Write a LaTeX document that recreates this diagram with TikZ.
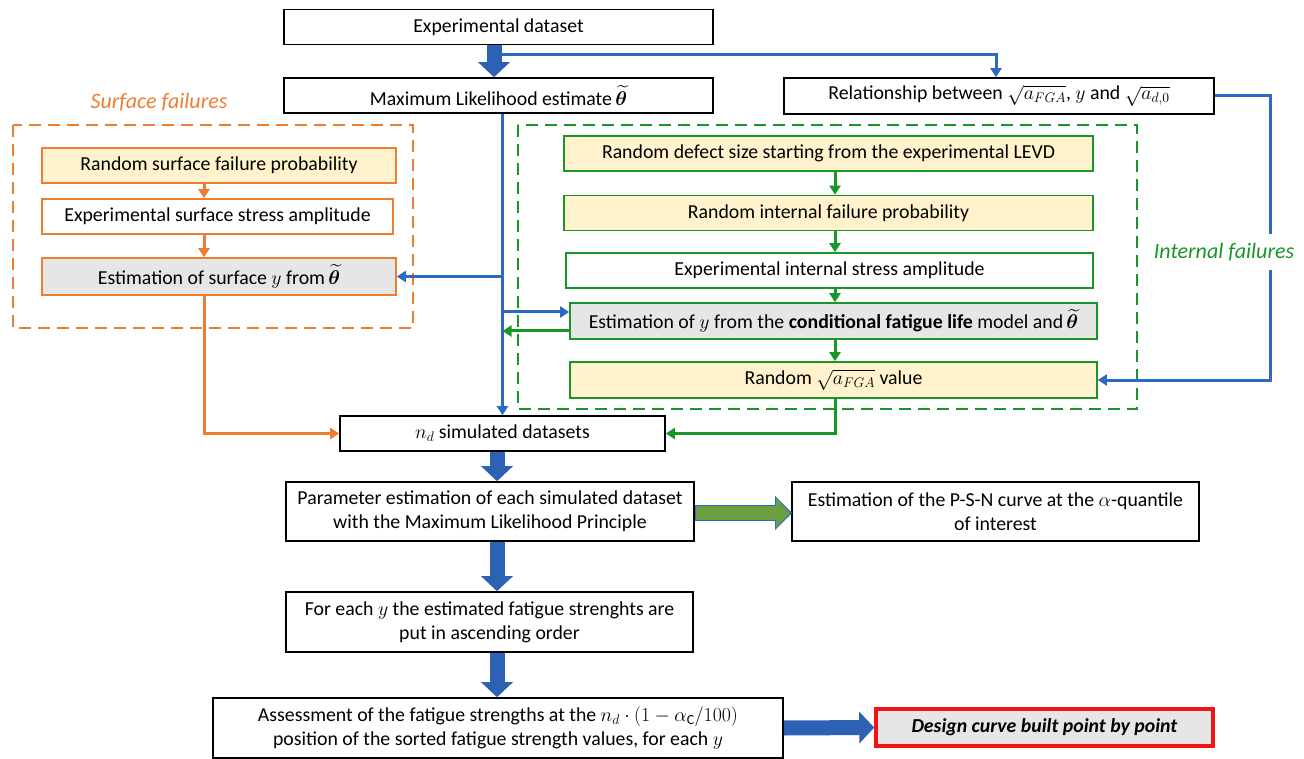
\documentclass[tikz,border=0pt]{standalone}
\usepackage{fix-cm}
\usepackage{amsmath,bm}
\usepackage{fontspec}
\setmainfont{Carlito}
\usetikzlibrary{arrows.meta,shapes}

\definecolor{lineblue}{RGB}{46,106,196}
\definecolor{arrowblue}{RGB}{45,97,180}
\definecolor{surforange}{RGB}{237,125,49}
\definecolor{intgreen}{RGB}{24,150,40}
\definecolor{arrowgreen}{RGB}{106,159,63}
\definecolor{boxyellow}{RGB}{255,242,204}
\definecolor{boxgray}{RGB}{230,230,230}
\definecolor{designred}{RGB}{240,20,20}

\newcommand{\thetahat}{\,$\widetilde{\bm{\theta}}$}

\tikzset{
  box/.style={draw=black, line width=1.6pt, minimum height=35pt, inner sep=2pt,
    align=center, font=\fontsize{19.8}{24}\selectfont},
  obox/.style={box, draw=surforange},
  gbox/.style={box, draw=intgreen},
  thin arrow/.style={line width=3pt, -{Triangle[width=11pt,length=9pt]}},
  big arrow/.style={line width=15pt, -{Triangle[width=31pt,length=15pt]}},
  frame/.style={line width=2.8pt, dash pattern=on 12pt off 7pt},
  tag/.style={font=\fontsize{22}{26}\selectfont\itshape}
}

\begin{document}
\begin{tikzpicture}[x=1pt, y=-1pt]
        \useasboundingbox (0,0) rectangle (1304,759);
        % Draw failure frames
        \draw[frame, surforange] (13,125) rectangle (413,328);
        \draw[frame, intgreen] (518,125) rectangle (1137,409);
        \node[tag, text=surforange] (surftag) at (159,102) {Surface failures};
        % Draw top boxes
        \node[box, minimum width=429pt] (expdata) at (498.5,27) {Experimental dataset};
        \node[box, minimum width=429pt] (mle) at (498.5,95.5)
        {Maximum Likelihood estimate\thetahat};
        \node[box, minimum width=430pt, minimum height=36pt] (rel) at (999,96)
        {Relationship between $\sqrt{a_{FGA}}$, $y$ and $\sqrt{a_{d,0}}$};
        % Draw surface boxes
        \node[obox, fill=boxyellow, minimum width=354pt] (sprob) at (219,165.5)
        {Random surface failure probability};
        \node[obox, minimum width=351pt] (samp) at (217.5,216.5)
        {Experimental surface stress amplitude};
        \node[obox, fill=boxgray, minimum width=354pt, minimum height=37pt] (sest) at (219,276.5)
        {Estimation of surface $y$ from\thetahat};
        % Draw internal boxes
        \node[gbox, fill=boxyellow, minimum width=529pt] (dsize) at (828.5,153.5)
        {Random defect size starting from the experimental LEVD};
        \node[gbox, fill=boxyellow, minimum width=529pt] (iprob) at (828.5,213)
        {Random internal failure probability};
        \node[gbox, minimum width=527pt] (iamp) at (829.5,270.5)
        {Experimental internal stress amplitude};
        \node[gbox, fill=boxgray, minimum width=527pt, minimum height=36pt] (iest) at (833.5,321)
        {Estimation of $y$ from the \textbf{conditional fatigue life} model and\thetahat};
        \node[gbox, fill=boxyellow, minimum width=527pt, minimum height=36pt] (arand) at (833.5,380)
        {Random $\sqrt{a_{FGA}}$ value};
        % Draw lower boxes
        \node[box, minimum width=325pt] (nd) at (502.5,433.5) {$n_d$ simulated datasets};
        \node[box, minimum width=408pt, minimum height=59pt] (param) at (490,511.5)
        {Parameter estimation of each simulated dataset\\with the Maximum Likelihood Principle};
        \node[box, minimum width=407pt, minimum height=59pt] (psn) at (995.5,511.5)
        {Estimation of the P-S-N curve at the $\alpha$-quantile\\of interest};
        \node[box, minimum width=407pt, minimum height=60pt] (sort) at (489.5,622)
        {For each $y$ the estimated fatigue strenghts are\\put in ascending order};
        \node[box, minimum width=570pt, minimum height=60pt] (assess) at (498,728)
        {Assessment of the fatigue strengths at the $n_d\cdot(1-\alpha_{\mathrm{C}}/100)$\\
        position of the sorted fatigue strength values, for each $y$};
        \node[box, draw=designred, line width=3.5pt, fill=boxgray, minimum width=337pt,
        minimum height=37pt] (design) at (1044.5,727.5)
        {\textbf{\textit{Design curve built point by point}}};
        % Draw blue connectors
        \coordinate (oline) at (204,0);
        \coordinate (gline) at (835,0);
        \coordinate (bline) at (497,0);
        \draw[thin arrow, lineblue] ([xshift=3pt,yshift=-9pt]expdata.south) -| ([xshift=-3pt]rel.north);
        \draw[thin arrow, lineblue] (rel.east) -- ++(56,0) |- (arand.east);
        \draw[thin arrow, lineblue] (mle.south -| nd.north) -- (nd.north);
        \draw[thin arrow, lineblue] (mle.south -| nd.north) |- (sest.east);
        \draw[thin arrow, lineblue] (mle.south -| nd.north) |- ([yshift=9pt]iest.west);
        \node[tag, text=intgreen, fill=white, inner ysep=9pt, inner xsep=0pt] (inttag) at (1224,252)
        {Internal failures};
        % Draw orange connectors
        \draw[thin arrow, surforange] (sprob.south -| oline) -- (samp.north -| oline);
        \draw[thin arrow, surforange] (samp.south -| oline) -- (sest.north -| oline);
        \draw[thin arrow, surforange] (sest.south -| oline) |- (nd.west);
        % Draw green connectors
        \foreach \a/\b in {dsize/iprob, iprob/iamp, iamp/iest, iest/arand}
        \draw[thin arrow, intgreen] (\a.south -| gline) -- (\b.north -| gline);
        \draw[thin arrow, intgreen] (arand.south -| gline) |- (nd.east);
        \draw[thin arrow, intgreen] ([yshift=-10pt]iest.west) -- ([yshift=-10pt]iest.west -| nd.north);
        % Draw big arrows
        \draw[big arrow, arrowblue] ([xshift=-4.5pt]expdata.south) -- ([xshift=-4.5pt]mle.north);
        \foreach \a/\b in {nd/param, param/sort, sort/assess}
        \draw[big arrow, arrowblue] (\a.south -| bline) -- (\b.north -| bline);
        \draw[big arrow, lineblue, line width=16.5pt, -{Triangle[width=33pt,length=17pt]}]
        ([yshift=-1.5pt]param.east) -- ([yshift=-1.5pt,xshift=1pt]psn.west);
        \draw[big arrow, arrowgreen, line width=13.5pt, -{Triangle[width=29pt,length=14pt]}]
        ([yshift=-1.5pt,xshift=1pt]param.east) -- ([yshift=-1.5pt,xshift=-1pt]psn.west);
        \draw[big arrow, arrowblue] (assess.east) -- (design.west);
    \end{tikzpicture}
\end{document}
